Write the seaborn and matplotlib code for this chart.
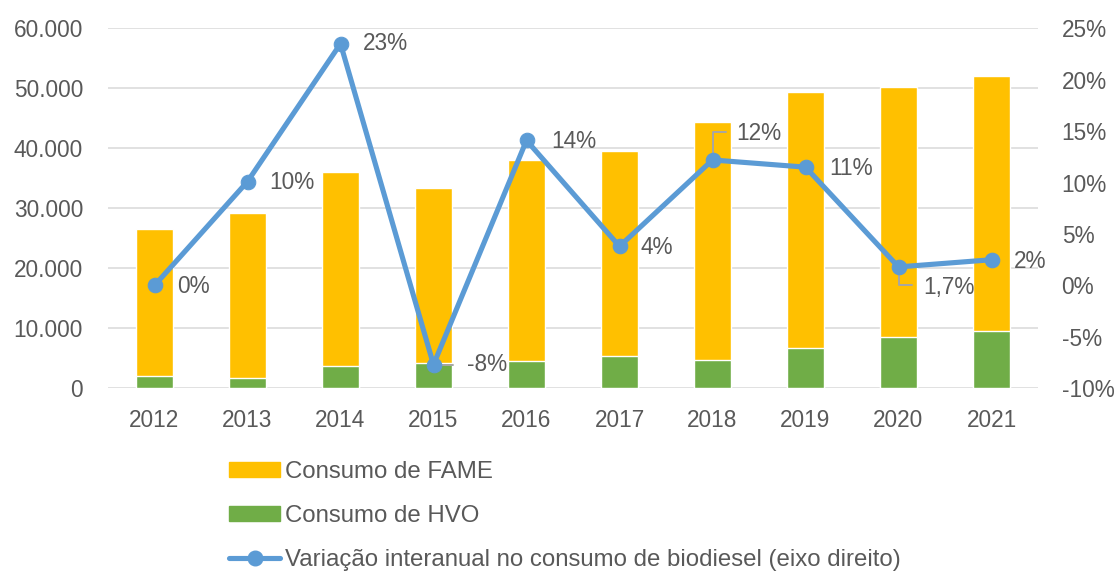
import numpy as np
import pandas as pd
import matplotlib
matplotlib.use("Agg")
import matplotlib.pyplot as plt
import seaborn as sns
from matplotlib.ticker import FuncFormatter
from matplotlib.patches import Patch
from matplotlib.lines import Line2D

years = ["2012", "2013", "2014", "2015", "2016", "2017", "2018", "2019", "2020", "2021"]
total = [26550, 29270, 36100, 33330, 38050, 39500, 44330, 49380, 50200, 52100]
hvo = [2100, 1770, 3770, 4170, 4600, 5430, 4770, 6720, 8600, 9500]
variation = [0.0, 10.1, 23.5, -7.7, 14.1, 3.8, 12.2, 11.5, 1.8, 2.5]
var_labels = ["0%", "10%", "23%", "-8%", "14%", "4%", "12%", "11%", "1,7%", "2%"]

FAME_C = "#FFC000"
HVO_C = "#70AD47"
LINE_C = "#5B9BD5"
TXT = "#595959"
GRID = "#D9D9D9"
LEAD = "#A6A6A6"
FS = 16.3
LFS = 17.3

sns.set_theme(style="white")
plt.rcParams["font.family"] = ["Liberation Sans", "DejaVu Sans"]

df = pd.DataFrame({"year": years, "total": total, "hvo": hvo})

fig = plt.figure(figsize=(11.18, 5.75), dpi=100)
ax = fig.add_axes([108 / 1118, 1 - 388.3 / 575, 930 / 1118, 360 / 575])

sns.barplot(data=df, x="year", y="total", color=FAME_C, width=0.40, ax=ax, saturation=1)
sns.barplot(data=df, x="year", y="hvo", color=HVO_C, width=0.40, ax=ax, saturation=1)
ax.set_xlim(-0.5, 9.5)
ax.set_ylim(0, 60000)
ax.set_yticks(np.arange(0, 60001, 10000))
ax.yaxis.set_major_formatter(FuncFormatter(lambda v, p: f"{int(v):,}".replace(",", ".")))
ax.grid(axis="y", color=GRID, linewidth=1.1)
ax.set_axisbelow(True)
for s in ax.spines.values():
    s.set_visible(False)
ax.set_xlabel("")
ax.set_ylabel("")
ax.tick_params(axis="both", length=0, labelsize=FS, colors=TXT)
ax.tick_params(axis="x", pad=15)
ax.tick_params(axis="y", pad=18)

ax2 = ax.twinx()
xs = np.arange(len(years))
sns.lineplot(x=xs, y=variation, ax=ax2, color=LINE_C, linewidth=3.7, marker="o",
             markersize=10.5, markeredgecolor=LINE_C, zorder=5)
ax2.set_xlim(-0.5, 9.5)
ax2.set_ylim(-10, 25)
ax2.set_yticks(np.arange(-10, 26, 5))
ax2.yaxis.set_major_formatter(FuncFormatter(lambda v, p: f"{int(v)}%"))
for s in ax2.spines.values():
    s.set_visible(False)
ax2.tick_params(axis="y", length=0, labelsize=FS, colors=TXT, pad=17)
ax2.set_ylabel("")

# data labels (offsets in points)
offsets = {0: (16, -1), 1: (16, -1), 2: (16, 0), 3: (24, 0), 4: (18, -1),
           5: (15, -1), 6: (17, 19), 7: (17, -1), 8: (18, -15), 9: (16, -1)}
for i, (v, lab) in enumerate(zip(variation, var_labels)):
    dx, dy = offsets[i]
    ax2.annotate(lab, (i, v), xytext=(dx, dy), textcoords="offset points",
                 ha="left", va="center", fontsize=FS, color=TXT, zorder=6)

# leader lines
ax2.plot([3.0, 3.21], [variation[3], variation[3]], color=LEAD, lw=1.4, zorder=4)
ax2.plot([6.01, 6.01, 6.15], [variation[6], 14.95, 14.95], color=LEAD, lw=1.4, zorder=4)
ax2.plot([8.0, 8.0, 8.15], [variation[8], 0.05, 0.05], color=LEAD, lw=1.4, zorder=4)

handles = [Patch(color=FAME_C, label="Consumo de FAME"),
           Patch(color=HVO_C, label="Consumo de HVO"),
           Line2D([0], [0], color=LINE_C, lw=3.7, marker="o", markersize=10.5,
                  label="Variação interanual no consumo de biodiesel (eixo direito)")]
leg = fig.legend(handles=handles, loc="upper left", bbox_to_anchor=(229 / 1118, 1 - 461 / 575),
                 frameon=False, fontsize=LFS, labelspacing=0.92, handlelength=2.14,
                 handletextpad=0.2, handleheight=0.58, borderaxespad=0, borderpad=0)
for t in leg.get_texts():
    t.set_color(TXT)

fig.savefig("out.png", dpi=100)
